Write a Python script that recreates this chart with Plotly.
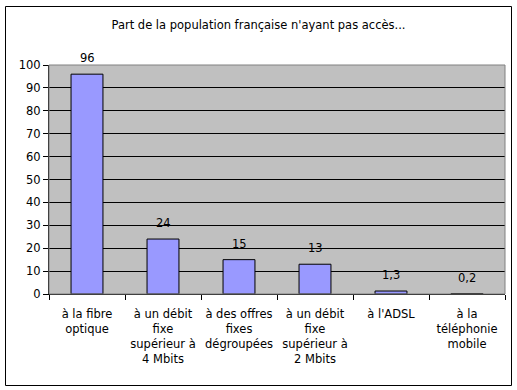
import plotly.graph_objects as go

categories = ["à la fibre<br>optique",
              "à un débit<br>fixe<br>supérieur à<br>4 Mbits",
              "à des offres<br>fixes<br>dégroupées",
              "à un débit<br>fixe<br>supérieur à<br>2 Mbits",
              "à l'ADSL",
              "à la<br>téléphonie<br>mobile"]
values = [96, 24, 15, 13, 1.3, 0.2]
value_labels = ["96", "24", "15", "13", "1,3", "0,2"]
y_ticks = [0, 10, 20, 30, 40, 50, 60, 70, 80, 90, 100]
title = "Part de la population française n'ayant pas accès..."

FONT = "DejaVu Sans, Arial, sans-serif"
FS = 11.5
W, H = 517, 390
L, R, T, B = 49, 12, 65, 96
pw, ph = W - L - R, H - T - B

def px_x(x):
    return (x - L) / pw

def px_y(y):
    return (H - B - y) / ph

fig = go.Figure(go.Bar(
    x=categories, y=values,
    marker=dict(color="#9999FF", line=dict(color="black", width=1)),
    hoverinfo="x+y",
))

for c, v, lab in zip(categories, values, value_labels):
    fig.add_annotation(x=c, y=v, text=lab, showarrow=False, yanchor="bottom",
                       yshift=7, font=dict(family=FONT, size=FS, color="black"))

fig.update_layout(
    width=W, height=H,
    margin=dict(l=L, r=R, t=T, b=B),
    paper_bgcolor="white", plot_bgcolor="#C0C0C0",
    font=dict(family=FONT, size=FS, color="black"),
    title=dict(text=title, x=0.5, xanchor="center", y=1 - 25 / H, yanchor="middle",
               font=dict(family=FONT, size=FS, color="black")),
    bargap=0.58, showlegend=False,
    shapes=[
        dict(type="rect", xref="paper", yref="paper",
             x0=px_x(5.5), x1=px_x(511.5), y0=px_y(385.5), y1=px_y(6.5),
             line=dict(color="black", width=1), fillcolor="rgba(0,0,0,0)", layer="below"),
        dict(type="rect", xref="paper", yref="paper", x0=0, x1=1, y0=0, y1=1,
             line=dict(color="#808080", width=1), fillcolor="rgba(0,0,0,0)", layer="above"),
    ],
)
fig.update_yaxes(range=[0, 100], tickvals=y_ticks, showgrid=True, gridcolor="black", gridwidth=1,
                 showline=True, linecolor="black", linewidth=1, ticks="outside", ticklen=5,
                 tickcolor="black", zeroline=False, tickfont=dict(size=FS))
fig.update_xaxes(showline=True, linecolor="black", linewidth=1, ticks="outside", ticklen=5,
                 tickcolor="black", tickson="boundaries", showgrid=False, tickangle=0,
                 tickfont=dict(size=FS), ticklabelstandoff=9)

fig.write_html("out.html", config={"displayModeBar": False},
               post_script="document.body.style.margin='0px';")
